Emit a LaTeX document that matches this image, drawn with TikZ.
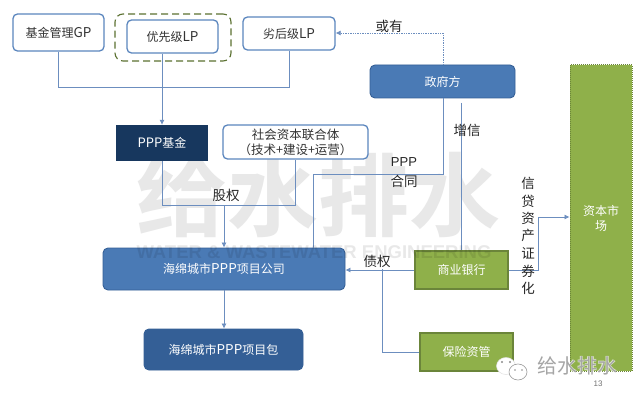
\documentclass[tikz,border=0pt]{standalone}
\usepackage{fontspec}
\setmainfont{Liberation Serif}
\newfontfamily\cjk{Noto Sans CJK SC}
\newfontfamily\cjkb{Noto Sans CJK SC Bold}
\newfontfamily\lat{Liberation Sans}
\usetikzlibrary{arrows.meta,calc}
\definecolor{linkblue}{HTML}{6C8EBF}
\definecolor{edgeblue}{HTML}{5B86BE}
\definecolor{fillblue}{HTML}{4A7AB5}
\definecolor{fillblueb}{HTML}{345F96}
\definecolor{navy}{HTML}{17375E}
\definecolor{leaf}{HTML}{8FB04A}
\definecolor{leafdark}{HTML}{6B853A}
\definecolor{wm}{HTML}{E8E8E8}
\tikzset{
  x=1pt,y=-1pt,
  box/.style={anchor=center,inner sep=0pt,align=center,font=\cjk\fontsize{12}{15}\selectfont},
  whitebox/.style={box,draw=edgeblue,line width=1.3pt,fill=white,rounded corners=4.5pt,text=black!80},
  bluebox/.style={box,draw=fillblueb,line width=.9pt,fill=fillblue,rounded corners=5pt,text=white},
  greenbox/.style={box,draw=leafdark,line width=1.2pt,fill=leaf,text=white},
  lnk/.style={draw=linkblue,line width=.7pt},
  arr/.style={lnk,-{Latex[length=5pt,width=5pt]}},
  lbl/.style={inner sep=0pt,align=center,text=black!85,font=\cjk\fontsize{13.5}{17}\selectfont},
}
\newcommand{\boxat}[6]{\node[#1,minimum width=#4-#2,minimum height=#5-#3] (#6) at ({(#2+#4)/2},{(#3+#5)/2})}
\begin{document}
\begin{tikzpicture}
\useasboundingbox (0,0) rectangle (640,401);
\fill[white] (0,0) rectangle (640,401);
% watermark
\node[inner sep=0pt,text=wm,font=\cjkb\fontsize{91}{91}\selectfont] (mark) at (318,195) {给水排水};
% boxes
\node[draw=leafdark!85!black,dash pattern=on 7pt off 4pt,line width=1.1pt,rounded corners=8pt,minimum width=116,minimum height=47,inner sep=0pt] (senior) at (173,37.5) {};
\boxat{whitebox}{13}{14}{104}{51}{gp} {基金管理{\fontsize{13.5}{15}\selectfont GP}};
\boxat{whitebox}{127}{20}{218}{53}{lpa} {优先级{\fontsize{13.5}{15}\selectfont LP}};
\boxat{whitebox}{243}{17}{335}{50}{lpb} {劣后级{\fontsize{13.5}{15}\selectfont LP}};
\boxat{box,fill=navy,text=white}{116}{125}{208}{161}{fund} {{\fontsize{13}{15}\selectfont PPP}基金};
\boxat{whitebox,font=\cjk\fontsize{12.5}{15}\selectfont}{223}{125}{368}{159}{social} {社会资本联合体\\（技术+建设+运营）};
\boxat{bluebox}{370}{65}{515}{98}{gov} {政府方};
\boxat{bluebox}{103}{248}{345}{290}{company} {海绵城市{\fontsize{13.5}{15}\selectfont PPP}项目公司};
\boxat{bluebox,fill=fillblueb,draw=fillblueb}{144}{329}{303}{370}{pack} {海绵城市{\fontsize{13.5}{15}\selectfont PPP}项目包};
\boxat{greenbox}{415}{251}{508}{289}{bank} {商业银行};
\boxat{greenbox}{420}{333}{513}{371}{insure} {保险资管};
\boxat{box,fill=leaf,draw=leafdark,densely dotted,line width=1pt,text=white}{570}{65}{632}{371}{market} {};
\node[box,text=white] (markettext) at (601,218) {资本市\\场};
% connectors
\coordinate (gpdrop) at (58.5,87);
\draw[lnk] (gp.south) -- (gpdrop) -| (lpb.south);
\draw[arr] (lpa.south -| fund.north) -- (fund.north);
\coordinate (fundrop) at (162,205);
\coordinate (socdrop) at (295,205);
\coordinate (eqtop) at (224,205);
\draw[lnk] (fund.south) -- (fundrop) -- (socdrop) -- (socdrop |- social.south);
\draw[arr] (eqtop) -- (eqtop |- company.north);
\draw[arr] (company.south) -- (company.south |- pack.north);
\coordinate (govdrop) at (443,174);
\coordinate (ctdrop) at (313,174);
\draw[lnk] (govdrop |- gov.south) -- (govdrop) -- (ctdrop) -- (ctdrop |- company.north);
\coordinate (enh) at (461,103);
\draw[lnk] (enh) -- (enh |- bank.north);
\coordinate (contingent) at (443,33);
\draw[arr,densely dotted] (contingent |- gov.north) -- (contingent) -- (contingent -| lpb.east);
\draw[arr] (bank.west) -- (bank.west -| company.east);
\coordinate (debt) at (382,269);
\draw[lnk] (insure.west) -| (debt);
\coordinate (secur) at (538,217);
\draw[arr] (bank.east) -| (secur) -- (secur -| market.west);
% labels
\node[lbl] (t1) at (389,26) {或有};
\node[lbl] (t2) at (467,130) {增信};
\node[lbl,font=\lat\fontsize{13}{17}\selectfont] (t3a) at (404,162) {PPP};
\node[lbl] (t3b) at (404,181) {合同};
\node[lbl] (t4) at (226,195) {股权};
\node[lbl] (t5) at (377,261) {债权};
\node[lbl] (t6a) at (528,183) {信};
\node[lbl] (t6b) at (528,201) {贷};
\node[lbl] (t6c) at (528,218) {资};
\node[lbl] (t6d) at (528,235) {产};
\node[lbl] (t6e) at (528,253) {证};
\node[lbl] (t6f) at (528,271) {券};
\node[lbl] (t6g) at (528,288) {化};
% english watermark over the boxes
\node[inner sep=0pt,text=black,opacity=.09,font=\lat\bfseries\fontsize{18.5}{20}\selectfont] (wmen) at (314,252) {WATER \& WASTEWATER ENGINEERING};
% logo
\fill[white] (506,366) ellipse (9.5 and 8.5);
\fill[white] (500,371) -- (499,378) -- (506,373) -- cycle;
\draw[black!12,line width=.5pt] (506,366) ellipse (9.5 and 8.5);
\fill[white] (518,372) ellipse (9 and 8);
\draw[black!40,line width=.6pt] (518,372) ellipse (9 and 8);
\fill[black!45] (502,362) circle (1.1) (510,362) circle (1.1) (515,370) circle (.9) (522,370) circle (.9);
\node[inner sep=0pt,text=white,opacity=.75,font=\cjk\bfseries\fontsize{20}{20}\selectfont] (brandhalo) at (577,366) {给水排水};
\node[inner sep=0pt,text=black!35,font=\cjk\fontsize{20}{20}\selectfont] (brand) at (577,366) {给水排水};
\node[inner sep=0pt,text=black!55,font=\lat\fontsize{8}{9}\selectfont] (page) at (598,384) {13};
\end{tikzpicture}
\end{document}
